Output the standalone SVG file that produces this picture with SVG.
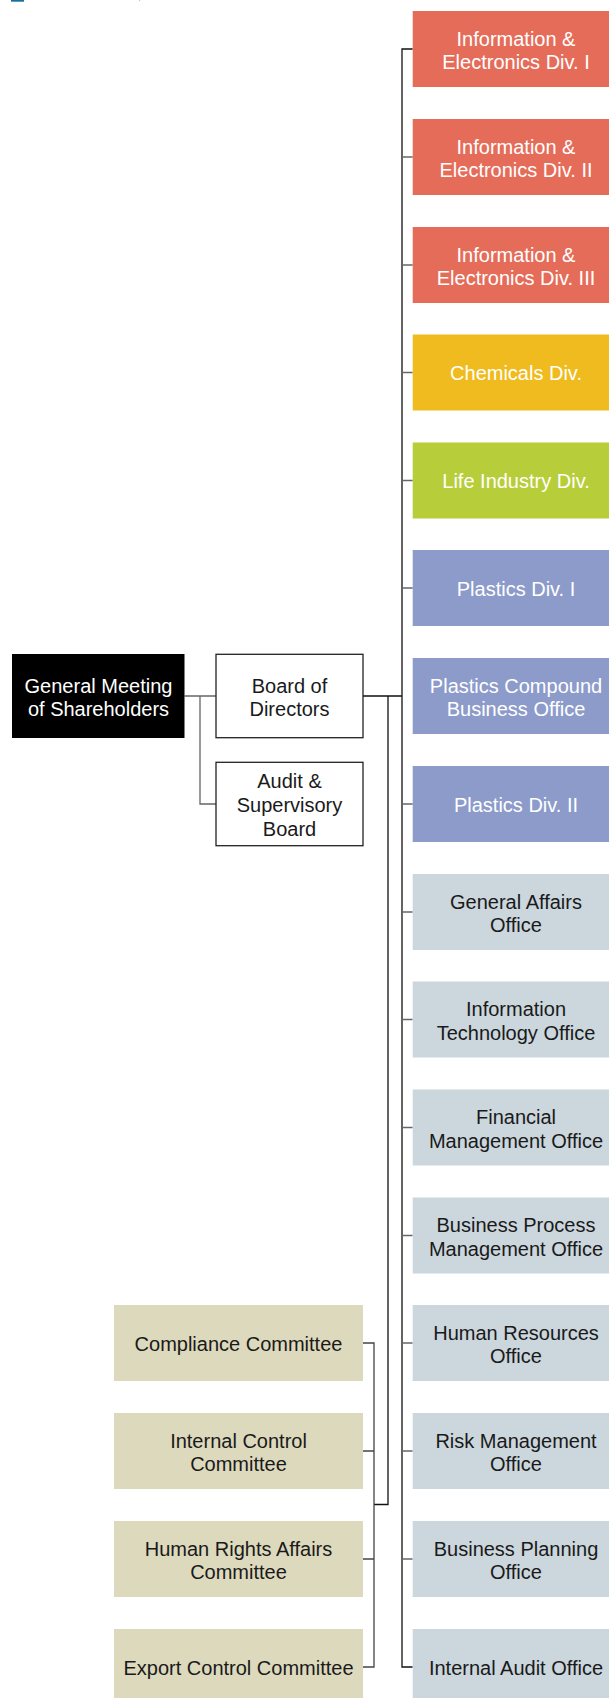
<svg xmlns="http://www.w3.org/2000/svg" width="609" height="1698" viewBox="0 0 609 1698">
<style>
text{font-family:"Liberation Sans",Arial,sans-serif;font-size:20px;text-anchor:middle}
.w{fill:#ffffff}
.k{fill:#1a1a1a}
.red{fill:#E66C5A}
.yel{fill:#F0BB1E}
.grn{fill:#B8CD3A}
.blu{fill:#8C9BC9}
.gry{fill:#CBD6DD}
.tan{fill:#DDD9BD}
.wb{fill:#ffffff;stroke:#222;stroke-width:1.3}
.sp{stroke:#111;stroke-width:1.3;fill:none}
.st{stroke:#666;stroke-width:1.3;fill:none}
.sc{stroke:#444;stroke-width:1.3;fill:none}
</style>
<rect x="11" y="0" width="13" height="1.7" fill="#1B6F9E"/>
<rect x="139" y="0" width="1.2" height="1.2" fill="#cccccc"/>
<g id="connectors">
<path class="st" d="M184.5 696H216M200 696V804H216"/>
<path class="sp" d="M363 696H402M388 696V1504.5H374M412.7 49H402V1667H412.7"/>
<path class="st" d="M402 157H412.7M402 265H412.7M402 372.5H412.7M402 480.5H412.7M402 588H412.7M402 804H412.7M402 912H412.7M402 1019.5H412.7M402 1127.5H412.7M402 1235.5H412.7M402 1343H412.7M402 1451H412.7M402 1559H412.7"/>
<path class="sc" d="M363 1343H374V1667H363M363 1451H374M363 1559H374"/>
</g>
<g id="gm"><rect x="12" y="654" width="172.5" height="84" fill="#000"/><text class="w" x="98.5" y="692.5">General Meeting</text><text class="w" x="98.5" y="716">of Shareholders</text></g>
<g id="board"><rect class="wb" x="216" y="654.3" width="147" height="83.4"/><text class="k" x="289.5" y="692.5">Board of</text><text class="k" x="289.5" y="716">Directors</text></g>
<g id="audit"><rect class="wb" x="216" y="762.3" width="147" height="83.4"/><text class="k" x="289.5" y="787.5">Audit &amp;</text><text class="k" x="289.5" y="811.5">Supervisory</text><text class="k" x="289.5" y="835.5">Board</text></g>
<g id="ie1"><rect class="red" x="412.7" y="11" width="200" height="76"/><text class="w" x="516" y="45.5">Information &amp;</text><text class="w" x="516" y="69">Electronics Div. I</text></g>
<g id="ie2"><rect class="red" x="412.7" y="119" width="200" height="76"/><text class="w" x="516" y="153.5">Information &amp;</text><text class="w" x="516" y="177">Electronics Div. II</text></g>
<g id="ie3"><rect class="red" x="412.7" y="227" width="200" height="76"/><text class="w" x="516" y="261.5">Information &amp;</text><text class="w" x="516" y="285">Electronics Div. III</text></g>
<g id="chem"><rect class="yel" x="412.7" y="334.5" width="200" height="76"/><text class="w" x="516" y="380">Chemicals Div.</text></g>
<g id="life"><rect class="grn" x="412.7" y="442.5" width="200" height="76"/><text class="w" x="516" y="488">Life Industry Div.</text></g>
<g id="pl1"><rect class="blu" x="412.7" y="550" width="200" height="76"/><text class="w" x="516" y="595.5">Plastics Div. I</text></g>
<g id="plc"><rect class="blu" x="412.7" y="658" width="200" height="76"/><text class="w" x="516" y="692.5">Plastics Compound</text><text class="w" x="516" y="716">Business Office</text></g>
<g id="pl2"><rect class="blu" x="412.7" y="766" width="200" height="76"/><text class="w" x="516" y="811.5">Plastics Div. II</text></g>
<g id="ga"><rect class="gry" x="412.7" y="874" width="200" height="76"/><text class="k" x="516" y="908.5">General Affairs</text><text class="k" x="516" y="932">Office</text></g>
<g id="it"><rect class="gry" x="412.7" y="981.5" width="200" height="76"/><text class="k" x="516" y="1016">Information</text><text class="k" x="516" y="1039.5">Technology Office</text></g>
<g id="fm"><rect class="gry" x="412.7" y="1089.5" width="200" height="76"/><text class="k" x="516" y="1124">Financial</text><text class="k" x="516" y="1147.5">Management Office</text></g>
<g id="bpm"><rect class="gry" x="412.7" y="1197.5" width="200" height="76"/><text class="k" x="516" y="1232">Business Process</text><text class="k" x="516" y="1255.5">Management Office</text></g>
<g id="hr"><rect class="gry" x="412.7" y="1305" width="200" height="76"/><text class="k" x="516" y="1339.5">Human Resources</text><text class="k" x="516" y="1363">Office</text></g>
<g id="rm"><rect class="gry" x="412.7" y="1413" width="200" height="76"/><text class="k" x="516" y="1447.5">Risk Management</text><text class="k" x="516" y="1471">Office</text></g>
<g id="bp"><rect class="gry" x="412.7" y="1521" width="200" height="76"/><text class="k" x="516" y="1555.5">Business Planning</text><text class="k" x="516" y="1579">Office</text></g>
<g id="ia"><rect class="gry" x="412.7" y="1629" width="200" height="76"/><text class="k" x="516" y="1674.5">Internal Audit Office</text></g>
<g id="cc"><rect class="tan" x="114" y="1305" width="249" height="76"/><text class="k" x="238.5" y="1350.5">Compliance Committee</text></g>
<g id="icc"><rect class="tan" x="114" y="1413" width="249" height="76"/><text class="k" x="238.5" y="1447.5">Internal Control</text><text class="k" x="238.5" y="1471">Committee</text></g>
<g id="hrc"><rect class="tan" x="114" y="1521" width="249" height="76"/><text class="k" x="238.5" y="1555.5">Human Rights Affairs</text><text class="k" x="238.5" y="1579">Committee</text></g>
<g id="ecc"><rect class="tan" x="114" y="1629" width="249" height="76"/><text class="k" x="238.5" y="1674.5">Export Control Committee</text></g>
</svg>
